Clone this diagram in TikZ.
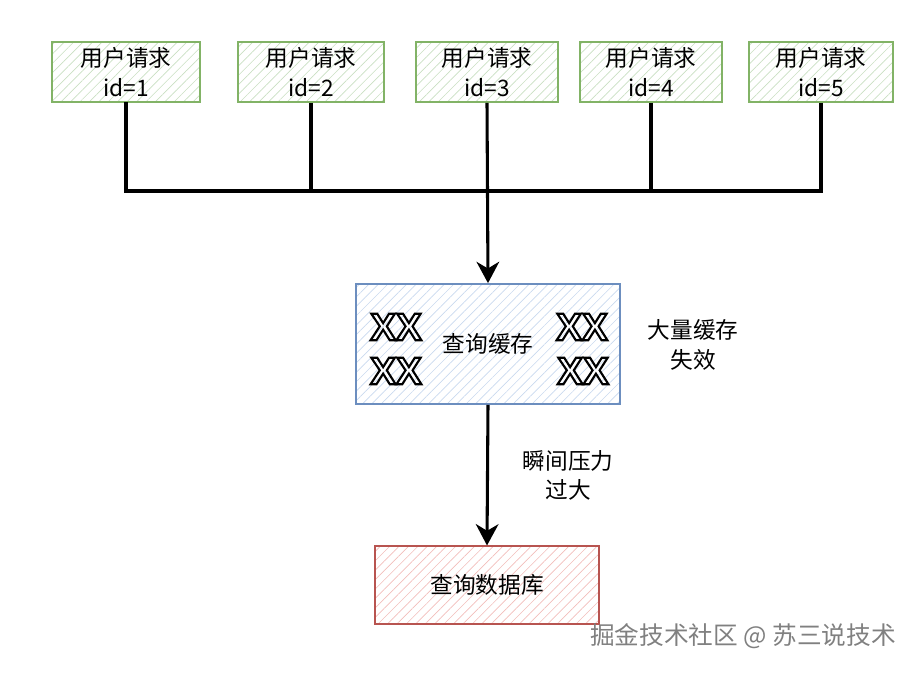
\documentclass[tikz,border=0pt]{standalone}
\usepackage{fontspec}
\setmainfont{Noto Sans CJK SC}
\newfontfamily\xfont{Liberation Sans}
\usetikzlibrary{arrows.meta,patterns.meta}
\definecolor{reqgreen}{HTML}{82B366}
\definecolor{reqhatch}{HTML}{C9DFC2}
\definecolor{cacheblue}{HTML}{6C8EBF}
\definecolor{cachehatch}{HTML}{C9D9EE}
\definecolor{dbred}{HTML}{B85450}
\definecolor{dbhatch}{HTML}{F2BDBB}
% hollow letters: stroke only
\newcommand{\hollowtext}[1]{\special{pdf:literal direct 1 Tr 1.6 w}#1\special{pdf:literal direct 0 Tr}}
\tikzset{
    reqbox/.style={draw=reqgreen, line width=1.3pt, align=center,
        minimum height=45pt, inner sep=2pt,
        pattern={Lines[angle=45,distance=5pt,line width=0.5pt]},
        pattern color=reqhatch},
    cachebox/.style={draw=cacheblue, line width=1.3pt, align=center,
        minimum width=198pt, minimum height=90pt,
        pattern={Lines[angle=45,distance=5pt,line width=0.5pt]},
        pattern color=cachehatch},
    dbbox/.style={draw=dbred, line width=1.3pt, align=center,
        minimum width=168pt, minimum height=58pt,
        pattern={Lines[angle=45,distance=5pt,line width=0.5pt]},
        pattern color=dbhatch},
    busline/.style={line width=2.3pt},
    busarrow/.style={line width=2.3pt,
        -{Stealth[length=16pt, width=17pt, inset=5pt]}},
    xmark/.style={font=\xfont\bfseries\fontsize{29}{29}\selectfont, inner sep=0pt}
}

\begin{document}
\begin{tikzpicture}[x=0.75pt, y=-0.75pt, font=\fontsize{17}{22}\selectfont]
    \useasboundingbox (0,0) rectangle (918,672);

    \node[reqbox, minimum width=111pt] (req1) at (126,72) {用户请求\\id=1};
    \node[reqbox, minimum width=109pt] (req2) at (311,72) {用户请求\\id=2};
    \node[reqbox, minimum width=106pt] (req3) at (487,72) {用户请求\\id=3};
    \node[reqbox, minimum width=106pt] (req4) at (651,72) {用户请求\\id=4};
    \node[reqbox, minimum width=108pt] (req5) at (821,72) {用户请求\\id=5};

    \coordinate (hub) at (487,191);

    \node[cachebox] (cache) at (488,344) {查询缓存};
    \node[xmark] (x1) at (396,327) {\hollowtext{XX}};
    \node[xmark] (x2) at (396,371) {\hollowtext{XX}};
    \node[xmark] (x3) at (582,327) {\hollowtext{XX}};
    \node[xmark] (x4) at (583,371) {\hollowtext{XX}};
    \node[align=center] (fail) at (693,345) {大量缓存\\失效};

    \node[dbbox] (db) at (487,585) {查询数据库};

    \draw[busline] (req1.south) |- (hub);
    \draw[busline] (req2.south) |- (hub);
    \draw[busline] (req4.south) |- (hub);
    \draw[busline] (req5.south) |- (hub);
    \draw[busarrow] (req3.south) -- (cache.north);
    \draw[busarrow] (cache.south) -- node[right=22pt, align=center]
        {瞬间压力\\过大} (db.north);

    \node[text=black!50, font=\fontsize{18.5}{22}\selectfont] (mark) at (743,636)
        {掘金技术社区 @ 苏三说技术};
\end{tikzpicture}
\end{document}
